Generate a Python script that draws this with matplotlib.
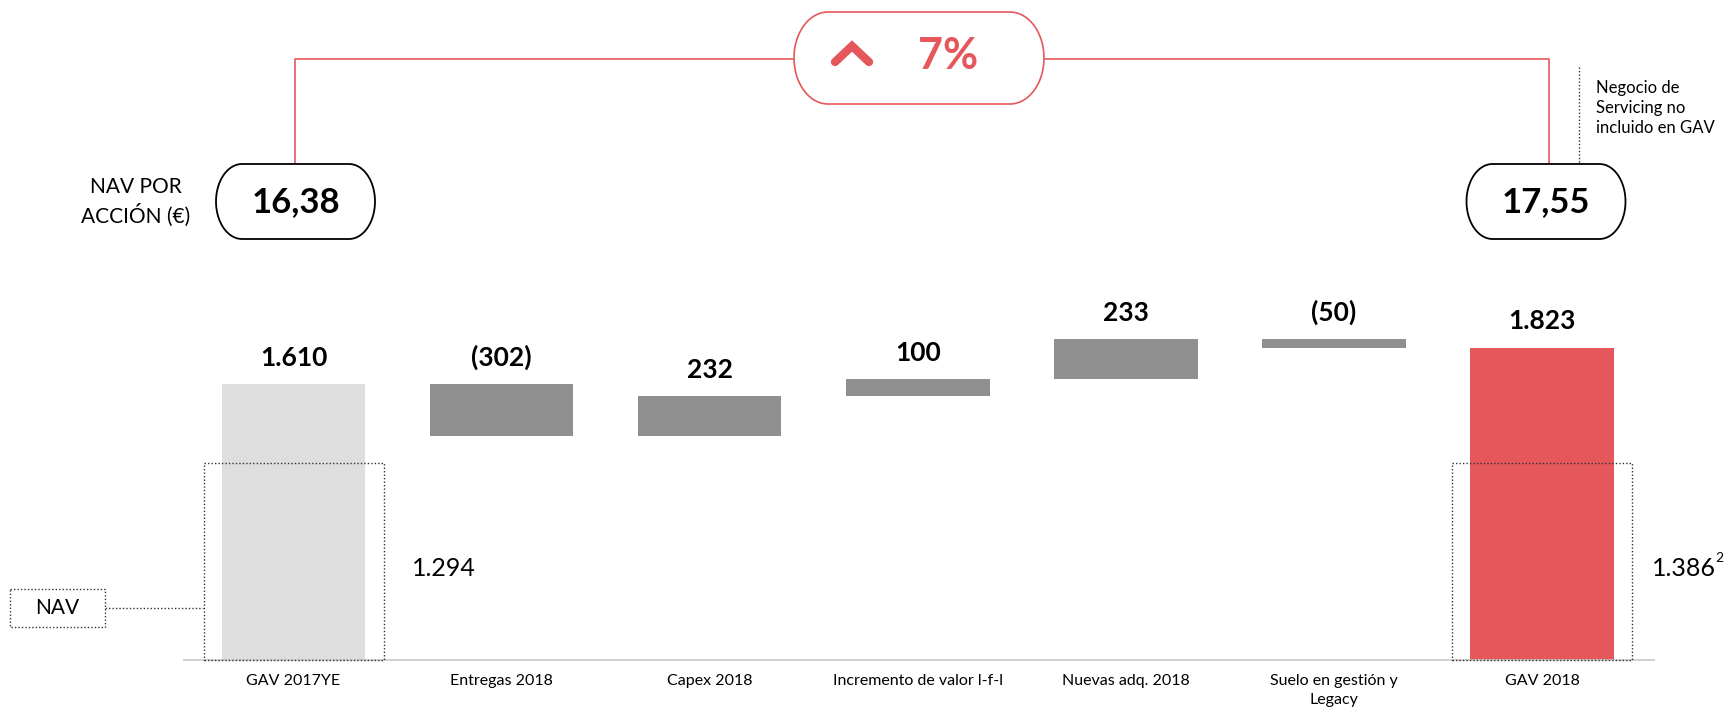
import matplotlib
matplotlib.use('Agg')
import numpy as np
import matplotlib.pyplot as plt
from matplotlib.patches import Rectangle, PathPatch
from matplotlib.path import Path

plt.rcParams['font.family'] = ['Lato', 'DejaVu Sans']

# datos del puente de GAV (M€)
categorias = ['GAV 2017YE', 'Entregas 2018', 'Capex 2018', 'Incremento de valor l-f-l',
              'Nuevas adq. 2018', 'Suelo en gestión y\nLegacy', 'GAV 2018']
gav_inicio = 1610
variaciones = [-302, 232, 100, 233, -50]
gav_fin = 1823
nav = [1294, 1386]
nav_por_accion = [16.38, 17.55]

ROJO = '#E5575B'
GRIS = '#8F8F8F'
GRIS_CLARO = '#DEDEDE'


def fmt(v):
    s = '{:,}'.format(abs(v)).replace(',', '.')
    return '(' + s + ')' if v < 0 else s


def caja_redonda(x0, y0, w, h, rx, ry, **kw):
    # rectangulo con esquinas elipticas
    t = np.linspace(0, np.pi / 2, 20)
    pts = []
    esquinas = [(x0 + w - rx, y0 + ry, 0), (x0 + rx, y0 + ry, 1),
                (x0 + rx, y0 + h - ry, 2), (x0 + w - rx, y0 + h - ry, 3)]
    for cx, cy, k in esquinas:
        a = t + k * np.pi / 2
        for ai in a:
            pts.append((cx + rx * np.cos(ai), cy - ry * np.sin(ai)))
    pts.append(pts[0])
    return PathPatch(Path(pts, closed=True), **kw)


def main():
    fig = plt.figure(figsize=(17.34, 7.13), dpi=100)
    ax = fig.add_axes([0, 0, 1, 1])
    ax.set_xlim(-1.41, 6.922)
    ax.set_ylim(-309, 3851)
    ax.axis('off')

    # barras del waterfall
    bottoms = [0]
    heights = [gav_inicio]
    nivel = gav_inicio
    for d in variaciones:
        if d < 0:
            bottoms.append(nivel + d)
        else:
            bottoms.append(nivel)
        heights.append(abs(d))
        nivel += d
    bottoms.append(0)
    heights.append(gav_fin)
    valores = [gav_inicio] + variaciones + [gav_fin]
    colores = [GRIS_CLARO] + [GRIS] * len(variaciones) + [ROJO]

    x = list(range(len(categorias)))
    ax.bar(x, heights, bottom=bottoms, width=0.69, color=colores, zorder=2)

    for i in x:
        top = bottoms[i] + heights[i]
        ax.annotate(fmt(valores[i]), (i, top), xytext=(0, 19), textcoords='offset points',
                    ha='center', va='center', fontsize=19, fontweight='bold')
        ax.annotate(categorias[i], (i, 0), xytext=(0, -10), textcoords='offset points',
                    ha='center', va='top', fontsize=11.5, linespacing=1.45)

    ax.hlines(0, -0.53, len(categorias) - 0.46, color='#C8C8C8', lw=1.2, zorder=3)

    # cajas punteadas de NAV
    alto_caja = 1149
    for i in [0, len(categorias) - 1]:
        ax.add_patch(Rectangle((i - 0.432, 0), 0.866, alto_caja, fill=False,
                               ls=(0, (1, 1.5)), lw=1, ec='#333333', zorder=4))
    ax.text(0.57, 537, fmt(nav[0]), fontsize=18, va='center', ha='left')
    ax.text(6.53, 537, fmt(nav[1]), fontsize=18, va='center', ha='left')
    ax.annotate('2', (6.53, 537), xytext=(45, 7), textcoords='offset points',
                fontsize=10, va='center', ha='left')

    # capa superior en pixeles
    ov = fig.add_axes([0, 0, 1, 1])
    ov.set_xlim(0, 1734)
    ov.set_ylim(713, 0)
    ov.axis('off')
    ov.patch.set_alpha(0)

    # etiqueta NAV
    ov.add_patch(Rectangle((10, 589), 95, 38, fill=False, ls=(0, (1, 1.5)), lw=1, ec='#333333'))
    ov.text(57.5, 608, 'NAV', fontsize=15, ha='center', va='center')
    ov.plot([105, 203], [608, 608], ls=(0, (1, 1.5)), lw=1, color='#333333')

    # NAV por accion
    ov.text(136, 202, 'NAV POR\nACCIÓN (€)', fontsize=15, ha='center', va='center', linespacing=1.35)
    for cx, v in zip([295.5, 1546], nav_por_accion):
        ov.add_patch(caja_redonda(cx - 79.5, 164, 159, 75, 26, 37.5,
                                  fc='white', ec='black', lw=1.3, zorder=3))
        ov.text(cx, 202, '{:.2f}'.format(v).replace('.', ','), fontsize=25,
                fontweight='bold', ha='center', va='center', zorder=4)

    # conector rojo y pildora de crecimiento
    ov.plot([295, 295, 794], [164, 59, 59], color=ROJO, lw=1.2)
    ov.plot([1044, 1549, 1549], [59, 59, 164], color=ROJO, lw=1.2)
    ov.add_patch(caja_redonda(794, 12, 250, 92, 34, 46, fc='white', ec=ROJO, lw=1.2, zorder=3))
    ov.plot([835, 852, 869], [62, 46, 62], color=ROJO, lw=6, solid_capstyle='round',
            solid_joinstyle='miter', zorder=4)
    crec = nav_por_accion[1] / nav_por_accion[0] - 1
    ov.text(948, 56, '{:.0f}%'.format(crec * 100), fontsize=31, fontweight='bold',
            color=ROJO, ha='center', va='center', zorder=4)

    # nota servicing
    ov.plot([1579, 1579], [67, 164], ls=(0, (1, 1.5)), lw=1, color='#333333')
    ov.text(1596, 108, 'Negocio de\nServicing no\nincluido en GAV', fontsize=12,
            ha='left', va='center', linespacing=1.32)

    fig.savefig('out.png', dpi=100, facecolor='white')


if __name__ == '__main__':
    main()
